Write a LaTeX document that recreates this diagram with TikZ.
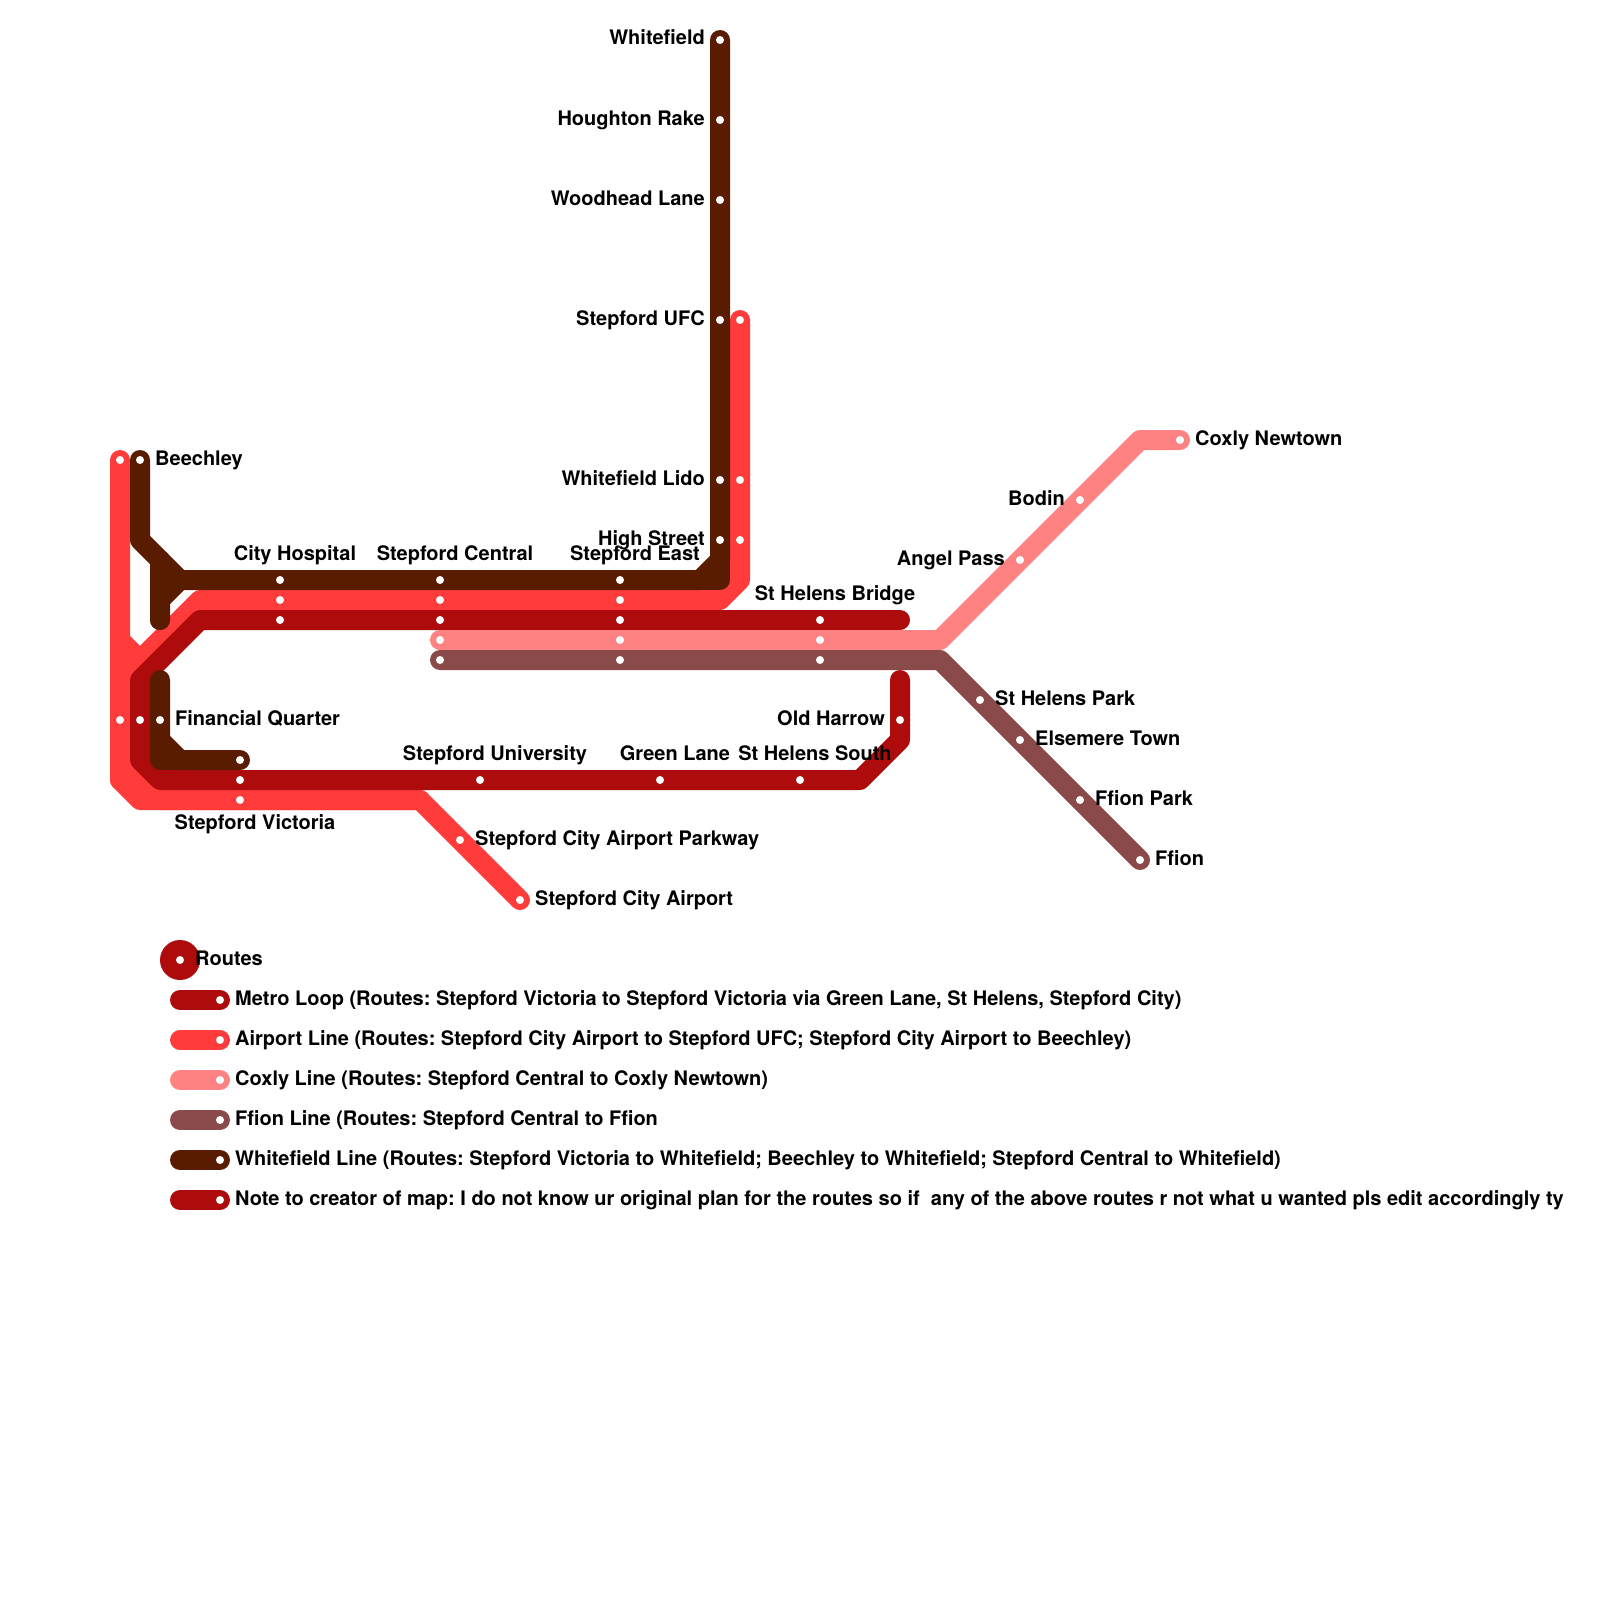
\documentclass[tikz,border=0pt]{standalone}
\usepackage{fontspec}
\setmainfont{TeX Gyre Heros}
\usetikzlibrary{positioning}
\definecolor{metro}{HTML}{AE0C0C}
\definecolor{airport}{HTML}{FF3B3B}
\definecolor{coxly}{HTML}{FF8282}
\definecolor{ffion}{HTML}{8A4A4A}
\definecolor{whitefield}{HTML}{591C00}

\begin{document}
\frenchspacing
\begin{tikzpicture}[
    x=1pt, y=-1pt,
    route/.style={line width=20pt, line cap=round, line join=round},
    stn/.style={circle, fill=white, inner sep=0pt, minimum size=8pt},
    txt/.style={font=\fontsize{20pt}{24pt}\selectfont\bfseries, inner sep=0pt, text=black},
    lblr/.style={txt, anchor=base west, xshift=15pt, yshift=-5pt},
    lbll/.style={txt, anchor=base east, xshift=-15pt, yshift=-5pt},
    lblt/.style={txt, anchor=base, xshift=15pt, yshift=20pt},
    lblb/.style={txt, anchor=base, xshift=15pt, yshift=-29pt}
]
    \useasboundingbox (0,0) rectangle (1600,1600);

    % Stations on the Whitefield line
    \coordinate (whitefieldst) at (720,40);
    \coordinate (houghton) at (720,120);
    \coordinate (woodhead) at (720,200);
    \coordinate (ufc) at (720,320);
    \coordinate (lido) at (720,480);
    \coordinate (high) at (720,540);
    \coordinate (east) at (620,580);
    \coordinate (central) at (440,580);
    \coordinate (hospital) at (280,580);
    \coordinate (beechley) at (140,460);
    \coordinate (financial) at (160,720);
    \coordinate (victoria) at (240,760);

    % Stations on the Airport line
    \coordinate (apufc) at (740,320);
    \coordinate (aplido) at (740,480);
    \coordinate (aphigh) at (740,540);
    \coordinate (apeast) at (620,600);
    \coordinate (apcentral) at (440,600);
    \coordinate (aphospital) at (280,600);
    \coordinate (apbeechley) at (120,460);
    \coordinate (apfinancial) at (120,720);
    \coordinate (apvictoria) at (240,800);
    \coordinate (parkway) at (460,840);
    \coordinate (cityairport) at (520,900);

    % Stations on the Metro Loop
    \coordinate (mlhospital) at (280,620);
    \coordinate (mlcentral) at (440,620);
    \coordinate (mleast) at (620,620);
    \coordinate (bridge) at (820,620);
    \coordinate (harrow) at (900,720);
    \coordinate (south) at (800,780);
    \coordinate (green) at (660,780);
    \coordinate (university) at (480,780);
    \coordinate (mlvictoria) at (240,780);
    \coordinate (mlfinancial) at (140,720);

    % Stations on the Coxly line
    \coordinate (cxcentral) at (440,640);
    \coordinate (cxeast) at (620,640);
    \coordinate (cxbridge) at (820,640);
    \coordinate (angel) at (1020,560);
    \coordinate (bodin) at (1080,500);
    \coordinate (newtown) at (1180,440);

    % Stations on the Ffion line
    \coordinate (ffcentral) at (440,660);
    \coordinate (ffeast) at (620,660);
    \coordinate (ffbridge) at (820,660);
    \coordinate (park) at (980,700);
    \coordinate (elsemere) at (1020,740);
    \coordinate (ffionpark) at (1080,800);
    \coordinate (ffionst) at (1140,860);

    % Bends
    \coordinate (apa) at (120,640);
    \coordinate (apb) at (140,660);
    \coordinate (apc) at (120,680);
    \coordinate (apd) at (120,780);
    \coordinate (ape) at (140,800);
    \coordinate (apf) at (420,800);
    \coordinate (apg) at (740,580);
    \coordinate (aph) at (720,600);
    \coordinate (api) at (200,600);
    \coordinate (apj) at (140,780);
    \coordinate (apk) at (160,800);
    \coordinate (mla) at (200,620);
    \coordinate (mlb) at (140,680);
    \coordinate (mlc) at (140,760);
    \coordinate (mld) at (160,780);
    \coordinate (mle) at (860,780);
    \coordinate (mlf) at (900,740);
    \coordinate (mlg) at (900,680);
    \coordinate (mlh) at (900,620);
    \coordinate (cxa) at (940,640);
    \coordinate (cxb) at (1140,440);
    \coordinate (ffa) at (940,660);
    \coordinate (wfa) at (720,560);
    \coordinate (wfb) at (700,580);
    \coordinate (wfc) at (720,580);
    \coordinate (wfd) at (180,580);
    \coordinate (wfe) at (160,600);
    \coordinate (wff) at (160,620);
    \coordinate (wfg) at (140,540);
    \coordinate (wfh) at (160,680);
    \coordinate (wfi) at (160,740);
    \coordinate (wfj) at (180,760);
    \coordinate (wfk) at (160,760);
    \coordinate (wfl) at (160,560);

    % Airport line
    \draw[route, airport] (apbeechley) -- (apd) -- (ape) -- (apf) -- (cityairport);
    \draw[route, airport] (apa) -- (apb) -- (apj) -- (apk) -- (apf);
    \draw[route, airport] (apufc) -- (apg) -- (aph) -- (api) -- (apc) -- (apd);

    % Metro Loop
    \draw[route, metro] (mlh) -- (mla) -- (mlb) -- (mlc) -- (mld) -- (mle) -- (mlf) -- (mlg);

    % Coxly line
    \draw[route, coxly] (cxcentral) -- (cxa) -- (cxb) -- (newtown);

    % Ffion line
    \draw[route, ffion] (ffcentral) -- (ffa) -- (ffionst);

    % Whitefield line
    \draw[route, whitefield] (whitefieldst) -- (wfa) -- (wfb) -- (wfd) -- (wfe) -- (wff);
    \draw[route, whitefield] (wfa) -- (wfc) -- (wfb);
    \draw[route, whitefield] (beechley) -- (wfg) -- (wfd);
    \draw[route, whitefield] (wfl) -- (wff);
    \draw[route, whitefield] (wfh) -- (wfi) -- (wfj) -- (victoria);
    \draw[route, whitefield] (wfi) -- (wfk) -- (wfj);

    % Station dots
    \foreach \s in {whitefieldst,houghton,woodhead,ufc,lido,high,east,central,hospital,beechley,financial,victoria,
        apufc,aplido,aphigh,apeast,apcentral,aphospital,apbeechley,apfinancial,apvictoria,parkway,cityairport,
        mlhospital,mlcentral,mleast,bridge,harrow,south,green,university,mlvictoria,mlfinancial,
        cxcentral,cxeast,cxbridge,angel,bodin,newtown,
        ffcentral,ffeast,ffbridge,park,elsemere,ffionpark,ffionst}
        \node[stn] (d\s) at (\s) {};

    % Station names
    \node[lbll] (twhitefield) at (whitefieldst) {Whitefield};
    \node[lbll] (thoughton) at (houghton) {Houghton Rake};
    \node[lbll] (twoodhead) at (woodhead) {Woodhead Lane};
    \node[lbll] (tufc) at (ufc) {Stepford UFC};
    \node[lbll] (tlido) at (lido) {Whitefield Lido};
    \node[lbll] (thigh) at (high) {High Street};
    \node[lblt] (teast) at (east) {Stepford East};
    \node[lblt] (tcentral) at (central) {Stepford Central};
    \node[lblt] (thospital) at (hospital) {City Hospital};
    \node[lblr] (tbeechley) at (beechley) {Beechley};
    \node[lblr] (tfinancial) at (financial) {Financial Quarter};
    \node[lblb] (tvictoria) at (apvictoria) {Stepford Victoria};
    \node[lblr] (tparkway) at (parkway) {Stepford City Airport Parkway};
    \node[lblr] (tcityairport) at (cityairport) {Stepford City Airport};
    \node[lblt] (tbridge) at (bridge) {St Helens Bridge};
    \node[lbll] (tharrow) at (harrow) {Old Harrow};
    \node[lblt] (tsouth) at (south) {St Helens South};
    \node[lblt] (tgreen) at (green) {Green Lane};
    \node[lblt] (tuniversity) at (university) {Stepford University};
    \node[lbll] (tangel) at (angel) {Angel Pass};
    \node[lbll] (tbodin) at (bodin) {Bodin};
    \node[lblr] (tnewtown) at (newtown) {Coxly Newtown};
    \node[lblr] (tpark) at (park) {St Helens Park};
    \node[lblr] (telsemere) at (elsemere) {Elsemere Town};
    \node[lblr] (tffionpark) at (ffionpark) {Ffion Park};
    \node[lblr] (tffion) at (ffionst) {Ffion};

    % Legend
    \coordinate (routes) at (180,960);
    \fill[metro] (routes) circle (20pt);
    \node[stn] (droutes) at (routes) {};
    \node[lblr] (troutes) at (routes) {Routes};
    \foreach \y/\c/\t in {
        1000/metro/{Metro Loop (Routes: Stepford Victoria to Stepford Victoria via Green Lane, St Helens, Stepford City)},
        1040/airport/{Airport Line (Routes: Stepford City Airport to Stepford UFC; Stepford City Airport to Beechley)},
        1080/coxly/{Coxly Line (Routes: Stepford Central to Coxly Newtown)},
        1120/ffion/{Ffion Line (Routes: Stepford Central to Ffion},
        1160/whitefield/{Whitefield Line (Routes: Stepford Victoria to Whitefield; Beechley to Whitefield; Stepford Central to Whitefield)},
        1200/metro/{Note to creator of map: I do not know ur original plan for the routes so if\ \ any of the above routes r not what u wanted pls edit accordingly ty}}
    {
        \coordinate (ka\y) at (180,\y);
        \coordinate (kb\y) at (220,\y);
        \draw[route, \c] (ka\y) -- (kb\y);
        \node[stn] (dk\y) at (kb\y) {};
        \node[lblr] (tk\y) at (kb\y) {\t};
    }
\end{tikzpicture}
\end{document}
